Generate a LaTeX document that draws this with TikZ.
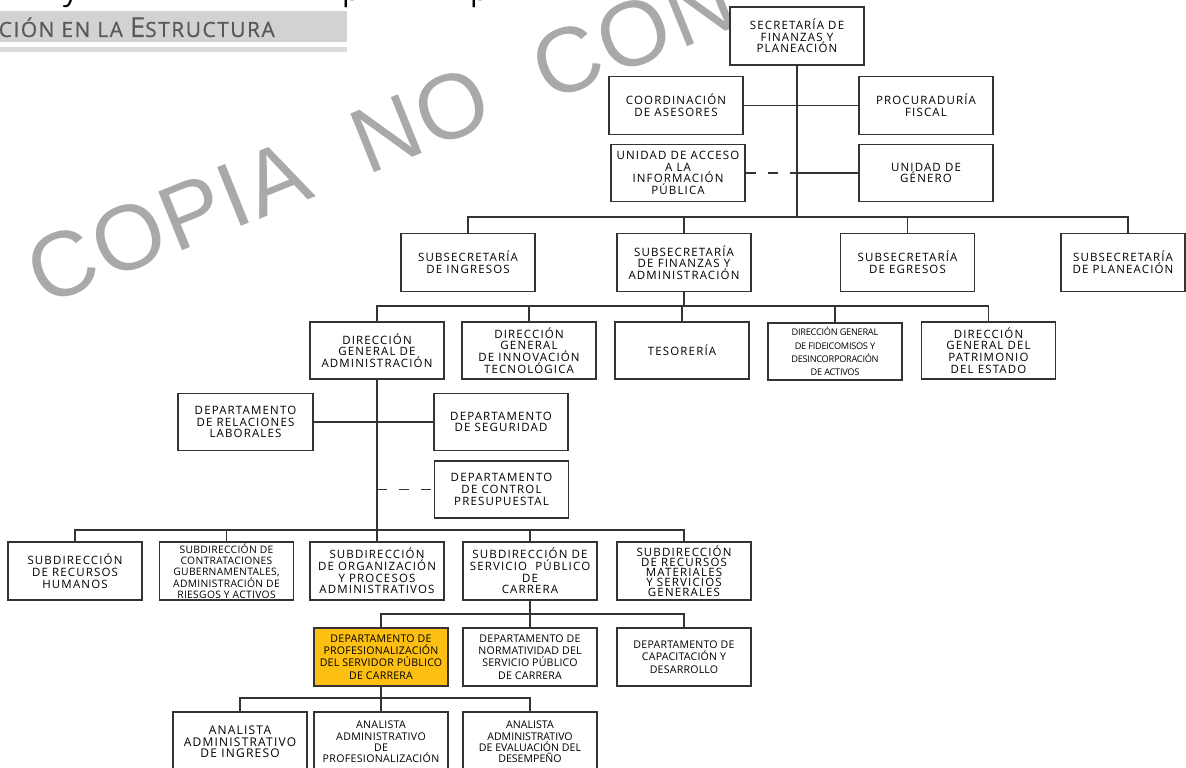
\documentclass[tikz,border=0pt]{standalone}
\usepackage{fontspec}
\setmainfont{Open Sans}
\newfontfamily\wmfont[LetterSpace=2]{Liberation Sans}
\newfontfamily\bxfont[LetterSpace=10]{Open Sans}
\newfontfamily\tfont{Open Sans}
\newfontfamily\hdfont[LetterSpace=7,FakeBold=0.6]{Open Sans}
\newcommand\tf[3]{\tfont\addfontfeatures{LetterSpace=#3}\fontsize{#1}{#2}\selectfont}
\definecolor{wm}{HTML}{A9A9A9}
\definecolor{band}{HTML}{D1D2D4}
\definecolor{band2}{HTML}{D9DADB}
\definecolor{hdtext}{HTML}{58595B}
\definecolor{gold}{HTML}{FCBF12}
\definecolor{ln}{HTML}{333333}
\begin{document}
\begin{tikzpicture}[x=1pt,y=-1pt,
  box/.style={draw=ln, line width=1.1pt, fill=white, minimum width=134pt, minimum height=58pt,
    inner sep=0pt, align=center, font=\bxfont\fontsize{11.5}{11.7}\selectfont},
  conn/.style={draw=ln, line width=1.1pt},
  dconn/.style={conn, dash pattern=on 10pt off 12pt}]
\useasboundingbox (0,0) rectangle (1186,768);
\clip (0,0) rectangle (1186,768);
% header
\fill[band] (0,11) rectangle (347,42);
\fill[band2] (0,47) rectangle (347,52);
\node[anchor=base east, inner sep=0pt, text=hdtext, font=\hdfont] (hd) at (275,37)
  {{\fontsize{21}{21}\selectfont CIÓN EN LA }{\fontsize{27.5}{27.5}\selectfont E}{\fontsize{21}{21}\selectfont STRUCTURA}};
% fragments of the cut-off line above
\node[anchor=base west, inner sep=0pt, font=\fontsize{30}{30}\selectfont] (fy) at (63,1) {y};
\node[anchor=base west, inner sep=0pt, font=\fontsize{30}{30}\selectfont] (fp1) at (342,1) {p};
\node[anchor=base west, inner sep=0pt, font=\fontsize{30}{30}\selectfont] (fp2) at (470,1) {p};
% watermark
\node[rotate=22, anchor=base west, text=wm, inner sep=0pt, font=\wmfont\fontsize{92}{92}\selectfont] (wmk) at (43.7,306.2) {COPIA\hspace{55.6pt}NO\hspace{55.6pt}CON};
% level 0-1
\node[box] (sec) at (797,36) {SECRETARÍA DE\\FINANZAS Y\\PLANEACIÓN};
\node[box] (coord) at (676,105.5) {COORDINACIÓN\\DE ASESORES};
\node[box] (proc) at (926,105.5) {PROCURADURÍA\\FISCAL};
\node[box, minimum height=57pt] (uaip) at (678,173) {UNIDAD DE ACCESO\\A LA\\INFORMACIÓN\\PÚBLICA};
\node[box, minimum height=57pt] (ug) at (926,173) {UNIDAD DE\\GÉNERO};
% subsecretarias
\node[box] (ssi) at (468,262.5) {SUBSECRETARÍA\\DE INGRESOS};
\node[box] (ssfa) at (684,262.5) {SUBSECRETARÍA\\DE FINANZAS Y\\ADMINISTRACIÓN};
\node[box] (sse) at (907.5,262.5) {SUBSECRETARÍA\\DE EGRESOS};
\node[box, minimum width=124pt] (ssp) at (1123,262.5) {SUBSECRETARÍA\\DE PLANEACIÓN};
% direcciones
\node[box, minimum height=57pt] (dga) at (377,350.5) {DIRECCIÓN\\GENERAL DE\\ADMINISTRACIÓN};
\node[box, minimum height=57pt] (dgit) at (529,350.5) {DIRECCIÓN\\GENERAL\\DE INNOVACIÓN\\TECNOLÓGICA};
\node[box, minimum height=57pt] (tes) at (682,350.5) {TESORERÍA};
\node[box, minimum height=57pt, font=\tf{9.2}{13.3}{-3}] (dgf) at (835,351.5) {DIRECCIÓN GENERAL\\DE FIDEICOMISOS Y\\DESINCORPORACIÓN\\DE ACTIVOS};
\node[box, minimum height=57pt] (dgp) at (988.5,350.5) {DIRECCIÓN\\GENERAL DEL\\PATRIMONIO\\DEL ESTADO};
% departamentos de la DGA
\node[box, minimum width=135pt, minimum height=57pt] (drl) at (245.5,422) {DEPARTAMENTO\\DE RELACIONES\\LABORALES};
\node[box, minimum height=57pt] (dseg) at (501,422) {DEPARTAMENTO\\DE SEGURIDAD};
\node[box, minimum height=57pt] (dcp) at (501.5,489.5) {DEPARTAMENTO\\DE CONTROL\\PRESUPUESTAL};
% subdirecciones
\node[box] (srh) at (75,571) {SUBDIRECCIÓN\\DE RECURSOS\\HUMANOS};
\node[box, font=\tf{10.3}{11.3}{3}] (sca) at (226.5,571) {SUBDIRECCIÓN DE\\CONTRATACIONES\\GUBERNAMENTALES,\\ADMINISTRACIÓN DE\\RIESGOS Y ACTIVOS};
\node[box] (sop) at (377,571) {SUBDIRECCIÓN\\DE ORGANIZACIÓN\\Y PROCESOS\\ADMINISTRATIVOS};
\node[box] (sspc) at (530,571) {SUBDIRECCIÓN DE\\SERVICIO~~PÚBLICO\\DE\\CARRERA};
\node[box, font=\bxfont\fontsize{11.5}{9.9}\selectfont] (srm) at (684,571) {SUBDIRECCIÓN\\DE RECURSOS\\MATERIALES\\Y SERVICIOS\\GENERALES};
% departamentos de la SSPC
\node[box, fill=gold, font=\tf{10.6}{12.3}{2}] (dpsp) at (381,657) {DEPARTAMENTO DE\\PROFESIONALIZACIÓN\\DEL SERVIDOR PÚBLICO\\DE CARRERA};
\node[box, font=\tf{10.6}{12.3}{2}] (dnsp) at (530,657) {DEPARTAMENTO DE\\NORMATIVIDAD DEL\\SERVICIO PÚBLICO\\DE CARRERA};
\node[box, font=\tf{10.6}{12.3}{2}] (dcd) at (684,657) {DEPARTAMENTO DE\\CAPACITACIÓN Y\\DESARROLLO};
% analistas
\node[box, minimum height=60pt, font=\bxfont\fontsize{12}{11.7}\selectfont] (aai) at (240,742) {ANALISTA\\ADMINISTRATIVO\\DE INGRESO};
\node[box, minimum height=60pt, font=\tf{10.6}{11.3}{3}] (aap) at (381,742) {ANALISTA\\ADMINISTRATIVO\\DE\\PROFESIONALIZACIÓN};
\node[box, minimum height=60pt, font=\tf{10.6}{11.3}{0}] (aae) at (530,742) {ANALISTA\\ADMINISTRATIVO\\DE EVALUACIÓN DEL\\DESEMPEÑO};
% bus coordinates
\coordinate (tA) at (797,217);
\coordinate (tB) at (684,306);
\coordinate (tC) at (377,530);
\coordinate (tD) at (530,614);
\coordinate (tE) at (381,698);
% connectors level 0-1
\draw[conn] (sec.south -| tA) -- (tA);
\draw[conn] (coord.east) -- (proc.west);
\draw[dconn] (uaip.east) -- (uaip.east -| tA);
\draw[conn] (uaip.east -| tA) -- (ug.west);
\draw[conn] (ssi.north) -- (ssi.north |- tA) -- ([xshift=5pt]ssp.north |- tA) -- ([xshift=5pt]ssp.north);
\draw[conn] (ssfa.north) -- (ssfa.north |- tA);
\draw[conn] (sse.north) -- (sse.north |- tA);
% connectors direcciones
\draw[conn] (ssfa.south) -- (tB);
\draw[conn] (dga.north) -- (dga.north |- tB) -- (dgp.north |- tB) -- (dgp.north);
\draw[conn] (dgit.north) -- (dgit.north |- tB);
\draw[conn] (tes.north) -- (tes.north |- tB);
\draw[conn] (dgf.north) -- (dgf.north |- tB);
% DGA trunk and departamentos
\draw[conn] (dga.south) -- (sop.north);
\draw[conn] (drl.east) -- (dseg.west);
\draw[dconn] (dcp.west -| tC) -- (dcp.west);
% subdirecciones bus
\draw[conn] (srh.north) -- (srh.north |- tC) -- (srm.north |- tC) -- (srm.north);
\draw[conn] (sca.north) -- (sca.north |- tC);
\draw[conn] (sspc.north) -- (sspc.north |- tC);
% SSPC departamentos
\draw[conn] (sspc.south) -- (tD);
\draw[conn] (dpsp.north) -- (dpsp.north |- tD) -- (dcd.north |- tD) -- (dcd.north);
\draw[conn] (dnsp.north) -- (dnsp.north |- tD);
% analistas
\draw[conn] (dpsp.south) -- (aap.north);
\draw[conn] (aai.north) -- (aai.north |- tE) -- (aae.north |- tE) -- (aae.north);
\end{tikzpicture}
\end{document}
